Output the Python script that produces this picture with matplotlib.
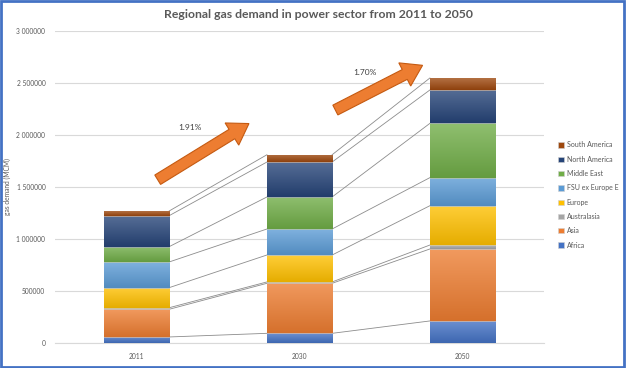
import numpy as np
import matplotlib
matplotlib.use("Agg")
import matplotlib.pyplot as plt
from matplotlib.patches import Rectangle, FancyArrow
from matplotlib.transforms import IdentityTransform
from matplotlib.colors import to_rgb

plt.rcParams['font.family'] = ['Lato', 'DejaVu Sans']

years = ['2011', '2030', '2050']
regions = ['Africa', 'Asia', 'Australasia', 'Europe', 'FSU ex Europe E',
           'Middle East', 'North America', 'South America']
colors = ['#4472C4', '#ED7D31', '#A5A5A5', '#FFC000', '#5B9BD5',
          '#70AD47', '#264478', '#9E480E']

# MCM
africa = [58000, 93000, 212000]
asia = [266000, 481000, 692000]
australasia = [15000, 13000, 38000]
europe = [193000, 259000, 378000]
fsu = [247000, 250000, 270000]
middle_east = [147000, 308000, 522000]
north_america = [298000, 336000, 321000]
south_america = [45000, 70000, 115000]

growth_labels = ['1.91%', '1.70%']

series = [africa, asia, australasia, europe, fsu, middle_east, north_america, south_america]

W, H = 626, 368
fig = plt.figure(figsize=(W / 100, H / 100), dpi=100)
ax = fig.add_axes([55 / W, 25 / H, 489 / W, 312 / H])


def gradient_fill(patch, col):
    # excel style fill: lighter at the top, a bit darker at the bottom
    c = np.array(to_rgb(col))
    light = c + (1 - c) * 0.22
    dark = c * 0.9
    t = np.linspace(0, 1, 64)[:, None]
    img = dark * (1 - t) + light * t
    img = img[:, None, :]
    x0, y0 = patch.get_x(), patch.get_y()
    im = ax.imshow(img, extent=[x0, x0 + patch.get_width(), y0, y0 + patch.get_height()],
                   origin='lower', aspect='auto', zorder=3, interpolation='bilinear')
    im.set_clip_path(patch)


x = np.arange(len(years))
bw = 0.4
bottom = np.zeros(len(years))
for vals, col, name in zip(series, colors, regions):
    vals = np.array(vals, dtype=float)
    bars = ax.bar(x, vals, bw, bottom=bottom, color=col, label=name,
                  edgecolor='#D0D0D0', linewidth=0.4, zorder=3)
    for b in bars:
        gradient_fill(b, col)
    top = bottom + vals
    # series lines between bars
    for i in range(len(years) - 1):
        ax.plot([x[i] + bw / 2, x[i + 1] - bw / 2], [top[i], top[i + 1]],
                color='#8C8C8C', lw=0.6, zorder=2)
    bottom = top

ax.set_xlim(-0.5, 2.5)
ax.set_ylim(0, 3000000)
yt = np.arange(0, 3000001, 500000)
ax.set_yticks(yt)
ax.set_yticklabels(['0' if v == 0 else (f"{v // 1000000} {v % 1000000:06d}" if v >= 1000000 else str(v)) for v in yt])
ax.set_xticks(x)
ax.set_xticklabels(years)
ax.tick_params(axis='both', length=0, labelsize=4.8, labelcolor='#595959', pad=7)
ax.grid(axis='y', color='#D9D9D9', lw=0.8, zorder=0)
for s in ['top', 'right', 'left']:
    ax.spines[s].set_visible(False)
ax.spines['bottom'].set_color('#D9D9D9')
ax.set_ylabel('gas demand (MCM)', fontsize=4.8, color='#595959')
ax.yaxis.set_label_coords((11 - 55) / 489, 0.5)

fig.text(318 / W, 1 - 15 / H, 'Regional gas demand in power sector from 2011 to 2050',
         ha='center', va='center', fontsize=8.8, fontweight='bold', color='#595959')

handles, labels = ax.get_legend_handles_labels()
leg = fig.legend(handles[::-1], labels[::-1], loc='center left',
                 bbox_to_anchor=(552 / W, 1 - 195 / H), frameon=False,
                 fontsize=5, labelcolor='#595959', handlelength=0.8,
                 handleheight=0.8, handletextpad=0.4, labelspacing=1.05)

# growth arrows, placed in data coordinates
arrows = [((0.13, 1.57e6), (0.69, 2.11e6)), ((1.22, 2.24e6), (1.755, 2.67e6))]
label_pos = [(0.33, 2.07e6), (1.4, 2.6e6)]
fig.canvas.draw()
for (p0, p1), lab, lp in zip(arrows, growth_labels, label_pos):
    a = ax.transData.transform(p0)
    b = ax.transData.transform(p1)
    arr = FancyArrow(a[0], a[1], b[0] - a[0], b[1] - a[1], width=11,
                     head_width=26, head_length=20, length_includes_head=True,
                     facecolor='#ED7D31', edgecolor='#C55A11', lw=0.8,
                     transform=IdentityTransform(), zorder=5)
    fig.add_artist(arr)
    ax.text(lp[0], lp[1], lab, fontsize=6, color='#404040', ha='center', va='center')

fig.add_artist(Rectangle((0.002, 0.003), 0.995, 0.994, transform=fig.transFigure,
                         fill=False, edgecolor='#4472C4', lw=2))

fig.savefig('out.png', dpi=100)
